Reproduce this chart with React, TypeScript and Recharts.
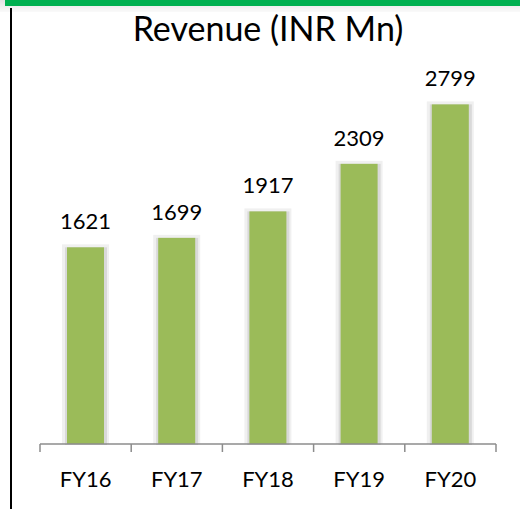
import React from 'react';
import { BarChart, Bar, XAxis, YAxis, LabelList } from 'recharts';

const years = ['FY16', 'FY17', 'FY18', 'FY19', 'FY20'];
const revenue = [1621, 1699, 1917, 2309, 2799];

const W = 520;
const H = 509;
const PLOT_LEFT = 40;
const PLOT_RIGHT = 496;
const BAND = (PLOT_RIGHT - PLOT_LEFT) / years.length;
const FONT = 'Lato, "Open Sans", sans-serif';

const data = years.map((name, i) => ({ name, value: revenue[i] }));

const ShadowBar = (props: any) => {
  const { x, y, width, height } = props;
  return (
    <g>
      <rect x={x - 5} y={y - 3} width={width + 10} height={height + 3} fill="#f0f0f0" />
      <rect x={x - 2} y={y} width={width + 5} height={height + 1} fill="#d9d9d9" />
      <rect x={x} y={y} width={width} height={height} fill="#9BBB59" />
    </g>
  );
};

const AxisTick = (props: any) => {
  const { x, y, payload, index } = props;
  const left = x - BAND / 2;
  const right = x + BAND / 2;
  return (
    <g>
      <line x1={left} y1={y - 8} x2={left} y2={y} stroke="#8c8c8c" strokeWidth={1.5} />
      {index === years.length - 1 && (
        <line x1={right} y1={y - 8} x2={right} y2={y} stroke="#8c8c8c" strokeWidth={1.5} />
      )}
      <text x={x} y={y + 35} textAnchor="middle" fontSize={22} fontFamily={FONT} fill="#000">
        {payload.value}
      </text>
    </g>
  );
};

export default function App() {
  return (
    <div style={{ position: 'absolute', left: 0, top: 0, width: W, height: H, background: '#fff', overflow: 'hidden' }}>
      {/* top green strip with shadow */}
      <div style={{ position: 'absolute', left: 0, top: 0, width: W, height: 12, background: 'linear-gradient(#e2e2e2, #fafafa)' }} />
      <div style={{ position: 'absolute', left: 5, top: 0, width: W - 5, height: 6, background: '#00B050' }} />
      <div style={{ position: 'absolute', left: 10, top: 8, width: 2, height: H - 8, background: '#000' }} />
      <div
        style={{
          position: 'absolute',
          left: 0,
          top: 4,
          width: 536,
          textAlign: 'center',
          fontFamily: FONT,
          fontSize: 34,
          color: '#000',
          lineHeight: '48px',
        }}
      >
        Revenue (INR Mn)
      </div>
      <div style={{ position: 'absolute', left: 0, top: 0 }}>
        <BarChart width={W} height={H} data={data} margin={{ top: 80, right: W - PLOT_RIGHT, left: PLOT_LEFT, bottom: 0 }}>
          <XAxis
            dataKey="name"
            height={65}
            axisLine={{ stroke: '#8c8c8c', strokeWidth: 1.5 }}
            tickLine={false}
            tick={<AxisTick />}
            interval={0}
          />
          <YAxis hide domain={[0, 3000]} />
          <Bar dataKey="value" barSize={37} shape={<ShadowBar />} isAnimationActive={false}>
            <LabelList dataKey="value" position="top" offset={18} fontSize={22} fontFamily={FONT} fill="#000" />
          </Bar>
        </BarChart>
      </div>
    </div>
  );
}
